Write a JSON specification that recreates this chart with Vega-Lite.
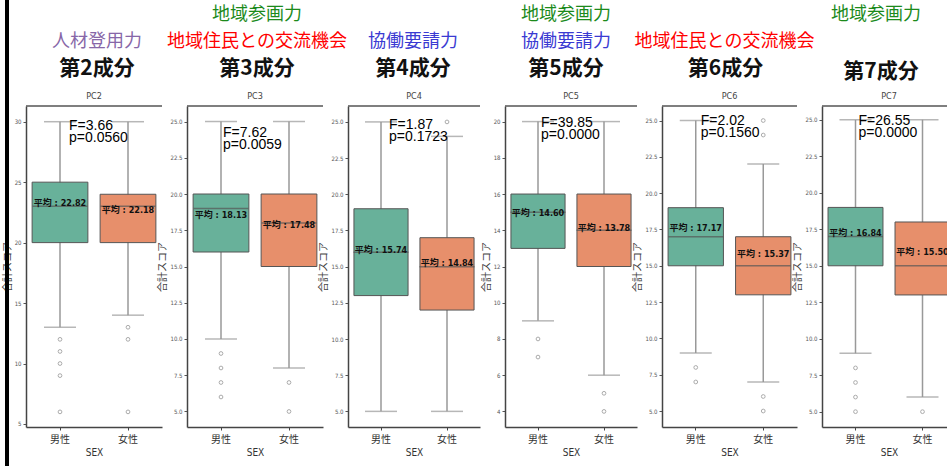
{
  "$schema": "https://vega.github.io/schema/vega-lite/v6.json",
  "padding": {"left": 2, "top": 0, "right": 0, "bottom": 0},
  "bounds": "flush",
  "spacing": 25,
  "hconcat": [
    {
      "width": 136, "height": 321,
      "resolve": {"scale": {"y": "independent", "x": "independent"}, "axis": {"y": "independent", "x": "independent"}},
      "layer": [
        {"data": {"values": [
           {"sex": "男性", "lower": 13, "q1": 20, "median": 23, "q3": 25, "upper": 30, "mean": 22.82, "meanLabel": "平均 : 22.82"},
           {"sex": "女性", "lower": 14, "q1": 20, "median": 23, "q3": 24, "upper": 30, "mean": 22.18, "meanLabel": "平均 : 22.18"}]},
         "layer": [
           {"data": {"values": [{}]}, "mark": {"type": "rule", "color": "#555", "strokeWidth": 1.3},
            "encoding": {"y": {"datum": 31.3, "type": "quantitative", "title": "合計スコア", "scale": {"domain": [4.75, 31.3], "nice": false, "zero": false}, "axis": {"orient": "left", "values": [5, 10, 15, 20, 25, 30], "format": "d", "title": "合計スコア"}}}},
           {"mark": {"type": "rule", "color": "#999", "strokeWidth": 1.5},
            "encoding": {"x": {"field": "sex", "type": "nominal", "sort": ["男性", "女性"], "scale": {"type": "band", "paddingInner": 0, "paddingOuter": 0}, "title": "SEX", "axis": {"orient": "bottom"}}, "y": {"field": "lower", "type": "quantitative", "title": "合計スコア"}, "y2": {"field": "upper"}}},
           {"mark": {"type": "tick", "orient": "horizontal", "color": "#999", "thickness": 1.5, "size": 32},
            "encoding": {"x": {"field": "sex", "type": "nominal", "sort": ["男性", "女性"], "title": "SEX"}, "y": {"field": "lower", "type": "quantitative", "title": "合計スコア"}}},
           {"mark": {"type": "tick", "orient": "horizontal", "color": "#999", "thickness": 1.5, "size": 32},
            "encoding": {"x": {"field": "sex", "type": "nominal", "sort": ["男性", "女性"], "title": "SEX"}, "y": {"field": "upper", "type": "quantitative", "title": "合計スコア"}}},
           {"mark": {"type": "bar", "stroke": "#555", "strokeWidth": 1, "width": {"band": 0.82}},
            "encoding": {"x": {"field": "sex", "type": "nominal", "sort": ["男性", "女性"], "title": "SEX"}, "y": {"field": "q1", "type": "quantitative", "title": "合計スコア"}, "y2": {"field": "q3"},
              "color": {"field": "sex", "type": "nominal", "scale": {"domain": ["男性", "女性"], "range": ["#68b19a", "#e78f6b"]}, "legend": null}}},
           {"mark": {"type": "tick", "orient": "horizontal", "color": "#555", "thickness": 1.5, "size": 55},
            "encoding": {"x": {"field": "sex", "type": "nominal", "sort": ["男性", "女性"], "title": "SEX"}, "y": {"field": "median", "type": "quantitative", "title": "合計スコア"}}},
           {"data": {"values": [{"sex": "男性", "value": 12}, {"sex": "男性", "value": 11}, {"sex": "男性", "value": 10}, {"sex": "男性", "value": 9}, {"sex": "男性", "value": 6}, {"sex": "女性", "value": 13}, {"sex": "女性", "value": 12}, {"sex": "女性", "value": 6}]},
            "mark": {"type": "point", "filled": false, "color": "#888", "size": 14, "strokeWidth": 1},
            "encoding": {"x": {"field": "sex", "type": "nominal", "sort": ["男性", "女性"], "title": "SEX"}, "y": {"field": "value", "type": "quantitative", "title": "合計スコア"}}},
           {"mark": {"type": "text", "font": "DejaVu Sans Condensed, Noto Sans CJK JP", "fontWeight": "bold", "fontSize": 9, "baseline": "bottom", "dy": -1, "color": "#111"},
            "encoding": {"x": {"field": "sex", "type": "nominal", "sort": ["男性", "女性"], "title": "SEX"}, "y": {"field": "mean", "type": "quantitative", "title": "合計スコア"}, "text": {"field": "meanLabel"}}},
           {"data": {"values": [{"F": "F=3.66", "p": "p=0.0560"}]}, "mark": {"type": "text", "font": "Liberation Sans", "fontSize": 14, "align": "left", "baseline": "middle", "dx": 9, "dy": 4, "color": "#000"},
            "encoding": {"x": {"datum": "男性", "type": "nominal", "title": "SEX"}, "y": {"datum": 30, "type": "quantitative", "title": "合計スコア"}, "text": {"field": "F"}}},
           {"data": {"values": [{"F": "F=3.66", "p": "p=0.0560"}]}, "mark": {"type": "text", "font": "Liberation Sans", "fontSize": 14, "align": "left", "baseline": "middle", "dx": 9, "dy": 16, "color": "#000"},
            "encoding": {"x": {"datum": "男性", "type": "nominal", "title": "SEX"}, "y": {"datum": 30, "type": "quantitative", "title": "合計スコア"}, "text": {"field": "p"}}}
         ]},
        {"data": {"values": [{"row": "2", "label": "人材登用力"}, {"row": "3", "label": "第2成分"}, {"row": "4", "label": "PC2"}]},
         "layer": [
           {"transform": [{"filter": "datum.row == '1' || datum.row == '2'"}], "mark": {"type": "text", "fontSize": 18, "baseline": "middle", "dx": 3},
            "encoding": {"y": {"field": "row", "type": "ordinal", "scale": {"type": "point", "domain": ["1", "2", "3", "4"], "range": [-91, -10], "padding": 0}, "axis": null},
              "text": {"field": "label"},
              "fill": {"field": "label", "type": "nominal", "scale": {"domain": ["地域参画力", "地域住民との交流機会", "協働要請力", "人材登用力"], "range": ["#1b8a1b", "#ff0000", "#3a3ad2", "#8767a8"]}, "legend": null}}},
           {"transform": [{"filter": "datum.row == '3'"}], "mark": {"type": "text", "fontSize": 21, "fontWeight": "bold", "color": "#111", "baseline": "middle", "dx": 3},
            "encoding": {"y": {"field": "row", "type": "ordinal", "axis": null}, "text": {"field": "label"}}},
           {"transform": [{"filter": "datum.row == '4'"}], "mark": {"type": "text", "fontSize": 9, "font": "DejaVu Sans Condensed", "color": "#444", "baseline": "middle"},
            "encoding": {"y": {"field": "row", "type": "ordinal", "axis": null}, "text": {"field": "label"}}}
         ]},
        {"data": {"values": [{"edge": 0}]},
         "mark": {"type": "rect", "color": "#000"},
         "encoding": {
           "x": {"datum": 0, "type": "quantitative", "scale": {"domain": [0, 1], "range": [-21, -17]}, "axis": null},
           "x2": {"datum": 1},
           "y": {"datum": 0, "type": "quantitative", "scale": {"domain": [0, 1], "range": [360, -106]}, "axis": null},
           "y2": {"datum": 1}}}
      ]
    },
    {
      "width": 136, "height": 321,
      "resolve": {"scale": {"y": "independent"}, "axis": {"y": "independent"}},
      "layer": [
        {"data": {"values": [
           {"sex": "男性", "lower": 10, "q1": 16, "median": 19, "q3": 20, "upper": 25, "mean": 18.13, "meanLabel": "平均 : 18.13"},
           {"sex": "女性", "lower": 8, "q1": 15, "median": 18, "q3": 20, "upper": 25, "mean": 17.48, "meanLabel": "平均 : 17.48"}]},
         "layer": [
           {"data": {"values": [{}]}, "mark": {"type": "rule", "color": "#555", "strokeWidth": 1.3},
            "encoding": {"y": {"datum": 26.07, "type": "quantitative", "title": "合計スコア", "scale": {"domain": [3.93, 26.07], "nice": false, "zero": false}, "axis": {"orient": "left", "values": [5, 7.5, 10, 12.5, 15, 17.5, 20, 22.5, 25], "format": ".1f", "title": "合計スコア"}}}},
           {"mark": {"type": "rule", "color": "#999", "strokeWidth": 1.5},
            "encoding": {"x": {"field": "sex", "type": "nominal", "sort": ["男性", "女性"], "scale": {"type": "band", "paddingInner": 0, "paddingOuter": 0}, "title": "SEX"}, "y": {"field": "lower", "type": "quantitative", "title": "合計スコア"}, "y2": {"field": "upper"}}},
           {"mark": {"type": "tick", "orient": "horizontal", "color": "#999", "thickness": 1.5, "size": 32},
            "encoding": {"x": {"field": "sex", "type": "nominal", "sort": ["男性", "女性"], "title": "SEX"}, "y": {"field": "lower", "type": "quantitative", "title": "合計スコア"}}},
           {"mark": {"type": "tick", "orient": "horizontal", "color": "#999", "thickness": 1.5, "size": 32},
            "encoding": {"x": {"field": "sex", "type": "nominal", "sort": ["男性", "女性"], "title": "SEX"}, "y": {"field": "upper", "type": "quantitative", "title": "合計スコア"}}},
           {"mark": {"type": "bar", "stroke": "#555", "strokeWidth": 1, "width": {"band": 0.82}},
            "encoding": {"x": {"field": "sex", "type": "nominal", "sort": ["男性", "女性"], "title": "SEX"}, "y": {"field": "q1", "type": "quantitative", "title": "合計スコア"}, "y2": {"field": "q3"},
              "color": {"field": "sex", "type": "nominal", "scale": {"domain": ["男性", "女性"], "range": ["#68b19a", "#e78f6b"]}, "legend": null}}},
           {"mark": {"type": "tick", "orient": "horizontal", "color": "#555", "thickness": 1.5, "size": 55},
            "encoding": {"x": {"field": "sex", "type": "nominal", "sort": ["男性", "女性"], "title": "SEX"}, "y": {"field": "median", "type": "quantitative", "title": "合計スコア"}}},
           {"data": {"values": [{"sex": "男性", "value": 9}, {"sex": "男性", "value": 8}, {"sex": "男性", "value": 7}, {"sex": "男性", "value": 6}, {"sex": "女性", "value": 7}, {"sex": "女性", "value": 5}]},
            "mark": {"type": "point", "filled": false, "color": "#888", "size": 14, "strokeWidth": 1},
            "encoding": {"x": {"field": "sex", "type": "nominal", "sort": ["男性", "女性"], "title": "SEX"}, "y": {"field": "value", "type": "quantitative", "title": "合計スコア"}}},
           {"mark": {"type": "text", "font": "DejaVu Sans Condensed, Noto Sans CJK JP", "fontWeight": "bold", "fontSize": 9, "baseline": "bottom", "dy": -1, "color": "#111"},
            "encoding": {"x": {"field": "sex", "type": "nominal", "sort": ["男性", "女性"], "title": "SEX"}, "y": {"field": "mean", "type": "quantitative", "title": "合計スコア"}, "text": {"field": "meanLabel"}}},
           {"data": {"values": [{"F": "F=7.62", "p": "p=0.0059"}]}, "mark": {"type": "text", "font": "Liberation Sans", "fontSize": 14, "align": "left", "baseline": "middle", "dx": 2, "dy": 11, "color": "#000"},
            "encoding": {"x": {"datum": "男性", "type": "nominal", "title": "SEX"}, "y": {"datum": 25, "type": "quantitative", "title": "合計スコア"}, "text": {"field": "F"}}},
           {"data": {"values": [{"F": "F=7.62", "p": "p=0.0059"}]}, "mark": {"type": "text", "font": "Liberation Sans", "fontSize": 14, "align": "left", "baseline": "middle", "dx": 2, "dy": 23, "color": "#000"},
            "encoding": {"x": {"datum": "男性", "type": "nominal", "title": "SEX"}, "y": {"datum": 25, "type": "quantitative", "title": "合計スコア"}, "text": {"field": "p"}}}
         ]},
        {"data": {"values": [{"row": "1", "label": "地域参画力"}, {"row": "2", "label": "地域住民との交流機会"}, {"row": "3", "label": "第3成分"}, {"row": "4", "label": "PC3"}]},
         "layer": [
           {"transform": [{"filter": "datum.row == '1' || datum.row == '2'"}], "mark": {"type": "text", "fontSize": 18, "baseline": "middle", "dx": 2},
            "encoding": {"y": {"field": "row", "type": "ordinal", "scale": {"type": "point", "domain": ["1", "2", "3", "4"], "range": [-91, -10], "padding": 0}, "axis": null},
              "text": {"field": "label"},
              "fill": {"field": "label", "type": "nominal", "scale": {"domain": ["地域参画力", "地域住民との交流機会", "協働要請力", "人材登用力"], "range": ["#1b8a1b", "#ff0000", "#3a3ad2", "#8767a8"]}, "legend": null}}},
           {"transform": [{"filter": "datum.row == '3'"}], "mark": {"type": "text", "fontSize": 21, "fontWeight": "bold", "color": "#111", "baseline": "middle", "dx": 2},
            "encoding": {"y": {"field": "row", "type": "ordinal", "axis": null}, "text": {"field": "label"}}},
           {"transform": [{"filter": "datum.row == '4'"}], "mark": {"type": "text", "fontSize": 9, "font": "DejaVu Sans Condensed", "color": "#444", "baseline": "middle"},
            "encoding": {"y": {"field": "row", "type": "ordinal", "axis": null}, "text": {"field": "label"}}}
         ]}
      ]
    },
    {
      "width": 132, "height": 321,
      "resolve": {"scale": {"y": "independent"}, "axis": {"y": "independent"}},
      "layer": [
        {"data": {"values": [
           {"sex": "男性", "lower": 5, "q1": 13, "median": 16, "q3": 19, "upper": 25, "mean": 15.74, "meanLabel": "平均 : 15.74"},
           {"sex": "女性", "lower": 5, "q1": 12, "median": 15, "q3": 17, "upper": 24, "mean": 14.84, "meanLabel": "平均 : 14.84"}]},
         "layer": [
           {"data": {"values": [{}]}, "mark": {"type": "rule", "color": "#555", "strokeWidth": 1.3},
            "encoding": {"y": {"datum": 26.1, "type": "quantitative", "title": "合計スコア", "scale": {"domain": [3.92, 26.1], "nice": false, "zero": false}, "axis": {"orient": "left", "values": [5, 7.5, 10, 12.5, 15, 17.5, 20, 22.5, 25], "format": ".1f", "title": "合計スコア"}}}},
           {"mark": {"type": "rule", "color": "#999", "strokeWidth": 1.5},
            "encoding": {"x": {"field": "sex", "type": "nominal", "sort": ["男性", "女性"], "scale": {"type": "band", "paddingInner": 0, "paddingOuter": 0}, "title": "SEX"}, "y": {"field": "lower", "type": "quantitative", "title": "合計スコア"}, "y2": {"field": "upper"}}},
           {"mark": {"type": "tick", "orient": "horizontal", "color": "#999", "thickness": 1.5, "size": 32},
            "encoding": {"x": {"field": "sex", "type": "nominal", "sort": ["男性", "女性"], "title": "SEX"}, "y": {"field": "lower", "type": "quantitative", "title": "合計スコア"}}},
           {"mark": {"type": "tick", "orient": "horizontal", "color": "#999", "thickness": 1.5, "size": 32},
            "encoding": {"x": {"field": "sex", "type": "nominal", "sort": ["男性", "女性"], "title": "SEX"}, "y": {"field": "upper", "type": "quantitative", "title": "合計スコア"}}},
           {"mark": {"type": "bar", "stroke": "#555", "strokeWidth": 1, "width": {"band": 0.82}},
            "encoding": {"x": {"field": "sex", "type": "nominal", "sort": ["男性", "女性"], "title": "SEX"}, "y": {"field": "q1", "type": "quantitative", "title": "合計スコア"}, "y2": {"field": "q3"},
              "color": {"field": "sex", "type": "nominal", "scale": {"domain": ["男性", "女性"], "range": ["#68b19a", "#e78f6b"]}, "legend": null}}},
           {"mark": {"type": "tick", "orient": "horizontal", "color": "#555", "thickness": 1.5, "size": 55},
            "encoding": {"x": {"field": "sex", "type": "nominal", "sort": ["男性", "女性"], "title": "SEX"}, "y": {"field": "median", "type": "quantitative", "title": "合計スコア"}}},
           {"data": {"values": [{"sex": "女性", "value": 25}]},
            "mark": {"type": "point", "filled": false, "color": "#888", "size": 14, "strokeWidth": 1},
            "encoding": {"x": {"field": "sex", "type": "nominal", "sort": ["男性", "女性"], "title": "SEX"}, "y": {"field": "value", "type": "quantitative", "title": "合計スコア"}}},
           {"mark": {"type": "text", "font": "DejaVu Sans Condensed, Noto Sans CJK JP", "fontWeight": "bold", "fontSize": 9, "baseline": "bottom", "dy": -1, "color": "#111"},
            "encoding": {"x": {"field": "sex", "type": "nominal", "sort": ["男性", "女性"], "title": "SEX"}, "y": {"field": "mean", "type": "quantitative", "title": "合計スコア"}, "text": {"field": "meanLabel"}}},
           {"data": {"values": [{"F": "F=1.87", "p": "p=0.1723"}]}, "mark": {"type": "text", "font": "Liberation Sans", "fontSize": 14, "align": "left", "baseline": "middle", "dx": 8, "dy": 3, "color": "#000"},
            "encoding": {"x": {"datum": "男性", "type": "nominal", "title": "SEX"}, "y": {"datum": 25, "type": "quantitative", "title": "合計スコア"}, "text": {"field": "F"}}},
           {"data": {"values": [{"F": "F=1.87", "p": "p=0.1723"}]}, "mark": {"type": "text", "font": "Liberation Sans", "fontSize": 14, "align": "left", "baseline": "middle", "dx": 8, "dy": 15, "color": "#000"},
            "encoding": {"x": {"datum": "男性", "type": "nominal", "title": "SEX"}, "y": {"datum": 25, "type": "quantitative", "title": "合計スコア"}, "text": {"field": "p"}}}
         ]},
        {"data": {"values": [{"row": "2", "label": "協働要請力"}, {"row": "3", "label": "第4成分"}, {"row": "4", "label": "PC4"}]},
         "layer": [
           {"transform": [{"filter": "datum.row == '1' || datum.row == '2'"}], "mark": {"type": "text", "fontSize": 18, "baseline": "middle", "dx": -1},
            "encoding": {"y": {"field": "row", "type": "ordinal", "scale": {"type": "point", "domain": ["1", "2", "3", "4"], "range": [-91, -10], "padding": 0}, "axis": null},
              "text": {"field": "label"},
              "fill": {"field": "label", "type": "nominal", "scale": {"domain": ["地域参画力", "地域住民との交流機会", "協働要請力", "人材登用力"], "range": ["#1b8a1b", "#ff0000", "#3a3ad2", "#8767a8"]}, "legend": null}}},
           {"transform": [{"filter": "datum.row == '3'"}], "mark": {"type": "text", "fontSize": 21, "fontWeight": "bold", "color": "#111", "baseline": "middle", "dx": -1},
            "encoding": {"y": {"field": "row", "type": "ordinal", "axis": null}, "text": {"field": "label"}}},
           {"transform": [{"filter": "datum.row == '4'"}], "mark": {"type": "text", "fontSize": 9, "font": "DejaVu Sans Condensed", "color": "#444", "baseline": "middle"},
            "encoding": {"y": {"field": "row", "type": "ordinal", "axis": null}, "text": {"field": "label"}}}
         ]}
      ]
    },
    {
      "width": 132, "height": 321,
      "resolve": {"scale": {"y": "independent"}, "axis": {"y": "independent"}},
      "layer": [
        {"data": {"values": [
           {"sex": "男性", "lower": 9, "q1": 13, "median": 15, "q3": 16, "upper": 20, "mean": 14.60, "meanLabel": "平均 : 14.60"},
           {"sex": "女性", "lower": 6, "q1": 12, "median": 14, "q3": 16, "upper": 20, "mean": 13.78, "meanLabel": "平均 : 13.78"}]},
         "layer": [
           {"data": {"values": [{}]}, "mark": {"type": "rule", "color": "#555", "strokeWidth": 1.3},
            "encoding": {"y": {"datum": 20.86, "type": "quantitative", "title": "合計スコア", "scale": {"domain": [3.14, 20.86], "nice": false, "zero": false}, "axis": {"orient": "left", "values": [4, 6, 8, 10, 12, 14, 16, 18, 20], "format": "d", "title": "合計スコア"}}}},
           {"mark": {"type": "rule", "color": "#999", "strokeWidth": 1.5},
            "encoding": {"x": {"field": "sex", "type": "nominal", "sort": ["男性", "女性"], "scale": {"type": "band", "paddingInner": 0, "paddingOuter": 0}, "title": "SEX"}, "y": {"field": "lower", "type": "quantitative", "title": "合計スコア"}, "y2": {"field": "upper"}}},
           {"mark": {"type": "tick", "orient": "horizontal", "color": "#999", "thickness": 1.5, "size": 32},
            "encoding": {"x": {"field": "sex", "type": "nominal", "sort": ["男性", "女性"], "title": "SEX"}, "y": {"field": "lower", "type": "quantitative", "title": "合計スコア"}}},
           {"mark": {"type": "tick", "orient": "horizontal", "color": "#999", "thickness": 1.5, "size": 32},
            "encoding": {"x": {"field": "sex", "type": "nominal", "sort": ["男性", "女性"], "title": "SEX"}, "y": {"field": "upper", "type": "quantitative", "title": "合計スコア"}}},
           {"mark": {"type": "bar", "stroke": "#555", "strokeWidth": 1, "width": {"band": 0.82}},
            "encoding": {"x": {"field": "sex", "type": "nominal", "sort": ["男性", "女性"], "title": "SEX"}, "y": {"field": "q1", "type": "quantitative", "title": "合計スコア"}, "y2": {"field": "q3"},
              "color": {"field": "sex", "type": "nominal", "scale": {"domain": ["男性", "女性"], "range": ["#68b19a", "#e78f6b"]}, "legend": null}}},
           {"mark": {"type": "tick", "orient": "horizontal", "color": "#555", "thickness": 1.5, "size": 55},
            "encoding": {"x": {"field": "sex", "type": "nominal", "sort": ["男性", "女性"], "title": "SEX"}, "y": {"field": "median", "type": "quantitative", "title": "合計スコア"}}},
           {"data": {"values": [{"sex": "男性", "value": 8}, {"sex": "男性", "value": 7}, {"sex": "女性", "value": 5}, {"sex": "女性", "value": 4}]},
            "mark": {"type": "point", "filled": false, "color": "#888", "size": 14, "strokeWidth": 1},
            "encoding": {"x": {"field": "sex", "type": "nominal", "sort": ["男性", "女性"], "title": "SEX"}, "y": {"field": "value", "type": "quantitative", "title": "合計スコア"}}},
           {"mark": {"type": "text", "font": "DejaVu Sans Condensed, Noto Sans CJK JP", "fontWeight": "bold", "fontSize": 9, "baseline": "bottom", "dy": -1, "color": "#111"},
            "encoding": {"x": {"field": "sex", "type": "nominal", "sort": ["男性", "女性"], "title": "SEX"}, "y": {"field": "mean", "type": "quantitative", "title": "合計スコア"}, "text": {"field": "meanLabel"}}},
           {"data": {"values": [{"F": "F=39.85", "p": "p=0.0000"}]}, "mark": {"type": "text", "font": "Liberation Sans", "fontSize": 14, "align": "left", "baseline": "middle", "dx": 3, "dy": 1, "color": "#000"},
            "encoding": {"x": {"datum": "男性", "type": "nominal", "title": "SEX"}, "y": {"datum": 20, "type": "quantitative", "title": "合計スコア"}, "text": {"field": "F"}}},
           {"data": {"values": [{"F": "F=39.85", "p": "p=0.0000"}]}, "mark": {"type": "text", "font": "Liberation Sans", "fontSize": 14, "align": "left", "baseline": "middle", "dx": 3, "dy": 13, "color": "#000"},
            "encoding": {"x": {"datum": "男性", "type": "nominal", "title": "SEX"}, "y": {"datum": 20, "type": "quantitative", "title": "合計スコア"}, "text": {"field": "p"}}}
         ]},
        {"data": {"values": [{"row": "1", "label": "地域参画力"}, {"row": "2", "label": "協働要請力"}, {"row": "3", "label": "第5成分"}, {"row": "4", "label": "PC5"}]},
         "layer": [
           {"transform": [{"filter": "datum.row == '1' || datum.row == '2'"}], "mark": {"type": "text", "fontSize": 18, "baseline": "middle", "dx": -5},
            "encoding": {"y": {"field": "row", "type": "ordinal", "scale": {"type": "point", "domain": ["1", "2", "3", "4"], "range": [-91, -10], "padding": 0}, "axis": null},
              "text": {"field": "label"},
              "fill": {"field": "label", "type": "nominal", "scale": {"domain": ["地域参画力", "地域住民との交流機会", "協働要請力", "人材登用力"], "range": ["#1b8a1b", "#ff0000", "#3a3ad2", "#8767a8"]}, "legend": null}}},
           {"transform": [{"filter": "datum.row == '3'"}], "mark": {"type": "text", "fontSize": 21, "fontWeight": "bold", "color": "#111", "baseline": "middle", "dx": -5},
            "encoding": {"y": {"field": "row", "type": "ordinal", "axis": null}, "text": {"field": "label"}}},
           {"transform": [{"filter": "datum.row == '4'"}], "mark": {"type": "text", "fontSize": 9, "font": "DejaVu Sans Condensed", "color": "#444", "baseline": "middle"},
            "encoding": {"y": {"field": "row", "type": "ordinal", "axis": null}, "text": {"field": "label"}}}
         ]}
      ]
    },
    {
      "width": 135, "height": 321,
      "resolve": {"scale": {"y": "independent"}, "axis": {"y": "independent"}},
      "layer": [
        {"data": {"values": [
           {"sex": "男性", "lower": 9, "q1": 15, "median": 17, "q3": 19, "upper": 25, "mean": 17.17, "meanLabel": "平均 : 17.17"},
           {"sex": "女性", "lower": 7, "q1": 13, "median": 15, "q3": 17, "upper": 22, "mean": 15.37, "meanLabel": "平均 : 15.37"}]},
         "layer": [
           {"data": {"values": [{}]}, "mark": {"type": "rule", "color": "#555", "strokeWidth": 1.3},
            "encoding": {"y": {"datum": 26.0, "type": "quantitative", "title": "合計スコア", "scale": {"domain": [3.9, 26.0], "nice": false, "zero": false}, "axis": {"orient": "left", "values": [5, 7.5, 10, 12.5, 15, 17.5, 20, 22.5, 25], "format": ".1f", "title": "合計スコア"}}}},
           {"mark": {"type": "rule", "color": "#999", "strokeWidth": 1.5},
            "encoding": {"x": {"field": "sex", "type": "nominal", "sort": ["男性", "女性"], "scale": {"type": "band", "paddingInner": 0, "paddingOuter": 0}, "title": "SEX"}, "y": {"field": "lower", "type": "quantitative", "title": "合計スコア"}, "y2": {"field": "upper"}}},
           {"mark": {"type": "tick", "orient": "horizontal", "color": "#999", "thickness": 1.5, "size": 32},
            "encoding": {"x": {"field": "sex", "type": "nominal", "sort": ["男性", "女性"], "title": "SEX"}, "y": {"field": "lower", "type": "quantitative", "title": "合計スコア"}}},
           {"mark": {"type": "tick", "orient": "horizontal", "color": "#999", "thickness": 1.5, "size": 32},
            "encoding": {"x": {"field": "sex", "type": "nominal", "sort": ["男性", "女性"], "title": "SEX"}, "y": {"field": "upper", "type": "quantitative", "title": "合計スコア"}}},
           {"mark": {"type": "bar", "stroke": "#555", "strokeWidth": 1, "width": {"band": 0.82}},
            "encoding": {"x": {"field": "sex", "type": "nominal", "sort": ["男性", "女性"], "title": "SEX"}, "y": {"field": "q1", "type": "quantitative", "title": "合計スコア"}, "y2": {"field": "q3"},
              "color": {"field": "sex", "type": "nominal", "scale": {"domain": ["男性", "女性"], "range": ["#68b19a", "#e78f6b"]}, "legend": null}}},
           {"mark": {"type": "tick", "orient": "horizontal", "color": "#555", "thickness": 1.5, "size": 55},
            "encoding": {"x": {"field": "sex", "type": "nominal", "sort": ["男性", "女性"], "title": "SEX"}, "y": {"field": "median", "type": "quantitative", "title": "合計スコア"}}},
           {"data": {"values": [{"sex": "男性", "value": 8}, {"sex": "男性", "value": 7}, {"sex": "女性", "value": 25}, {"sex": "女性", "value": 24}, {"sex": "女性", "value": 6}, {"sex": "女性", "value": 5}]},
            "mark": {"type": "point", "filled": false, "color": "#888", "size": 14, "strokeWidth": 1},
            "encoding": {"x": {"field": "sex", "type": "nominal", "sort": ["男性", "女性"], "title": "SEX"}, "y": {"field": "value", "type": "quantitative", "title": "合計スコア"}}},
           {"mark": {"type": "text", "font": "DejaVu Sans Condensed, Noto Sans CJK JP", "fontWeight": "bold", "fontSize": 9, "baseline": "bottom", "dy": -1, "color": "#111"},
            "encoding": {"x": {"field": "sex", "type": "nominal", "sort": ["男性", "女性"], "title": "SEX"}, "y": {"field": "mean", "type": "quantitative", "title": "合計スコア"}, "text": {"field": "meanLabel"}}},
           {"data": {"values": [{"F": "F=2.02", "p": "p=0.1560"}]}, "mark": {"type": "text", "font": "Liberation Sans", "fontSize": 14, "align": "left", "baseline": "middle", "dx": 5, "dy": 0, "color": "#000"},
            "encoding": {"x": {"datum": "男性", "type": "nominal", "title": "SEX"}, "y": {"datum": 25, "type": "quantitative", "title": "合計スコア"}, "text": {"field": "F"}}},
           {"data": {"values": [{"F": "F=2.02", "p": "p=0.1560"}]}, "mark": {"type": "text", "font": "Liberation Sans", "fontSize": 14, "align": "left", "baseline": "middle", "dx": 5, "dy": 12, "color": "#000"},
            "encoding": {"x": {"datum": "男性", "type": "nominal", "title": "SEX"}, "y": {"datum": 25, "type": "quantitative", "title": "合計スコア"}, "text": {"field": "p"}}}
         ]},
        {"data": {"values": [{"row": "2", "label": "地域住民との交流機会"}, {"row": "3", "label": "第6成分"}, {"row": "4", "label": "PC6"}]},
         "layer": [
           {"transform": [{"filter": "datum.row == '1' || datum.row == '2'"}], "mark": {"type": "text", "fontSize": 18, "baseline": "middle", "dx": -5},
            "encoding": {"y": {"field": "row", "type": "ordinal", "scale": {"type": "point", "domain": ["1", "2", "3", "4"], "range": [-91, -10], "padding": 0}, "axis": null},
              "text": {"field": "label"},
              "fill": {"field": "label", "type": "nominal", "scale": {"domain": ["地域参画力", "地域住民との交流機会", "協働要請力", "人材登用力"], "range": ["#1b8a1b", "#ff0000", "#3a3ad2", "#8767a8"]}, "legend": null}}},
           {"transform": [{"filter": "datum.row == '3'"}], "mark": {"type": "text", "fontSize": 21, "fontWeight": "bold", "color": "#111", "baseline": "middle", "dx": -4},
            "encoding": {"y": {"field": "row", "type": "ordinal", "axis": null}, "text": {"field": "label"}}},
           {"transform": [{"filter": "datum.row == '4'"}], "mark": {"type": "text", "fontSize": 9, "font": "DejaVu Sans Condensed", "color": "#444", "baseline": "middle"},
            "encoding": {"y": {"field": "row", "type": "ordinal", "axis": null}, "text": {"field": "label"}}}
         ]}
      ]
    },
    {
      "width": 134, "height": 321,
      "resolve": {"scale": {"y": "independent"}, "axis": {"y": "independent"}},
      "layer": [
        {"data": {"values": [
           {"sex": "男性", "lower": 9, "q1": 15, "median": 17, "q3": 19, "upper": 25, "mean": 16.84, "meanLabel": "平均 : 16.84"},
           {"sex": "女性", "lower": 6, "q1": 13, "median": 15, "q3": 18, "upper": 25, "mean": 15.50, "meanLabel": "平均 : 15.50"}]},
         "layer": [
           {"data": {"values": [{}]}, "mark": {"type": "rule", "color": "#555", "strokeWidth": 1.3},
            "encoding": {"y": {"datum": 25.95, "type": "quantitative", "title": "合計スコア", "scale": {"domain": [3.95, 25.95], "nice": false, "zero": false}, "axis": {"orient": "left", "values": [5, 7.5, 10, 12.5, 15, 17.5, 20, 22.5, 25], "format": ".1f", "title": "合計スコア"}}}},
           {"mark": {"type": "rule", "color": "#999", "strokeWidth": 1.5},
            "encoding": {"x": {"field": "sex", "type": "nominal", "sort": ["男性", "女性"], "scale": {"type": "band", "paddingInner": 0, "paddingOuter": 0}, "title": "SEX"}, "y": {"field": "lower", "type": "quantitative", "title": "合計スコア"}, "y2": {"field": "upper"}}},
           {"mark": {"type": "tick", "orient": "horizontal", "color": "#999", "thickness": 1.5, "size": 32},
            "encoding": {"x": {"field": "sex", "type": "nominal", "sort": ["男性", "女性"], "title": "SEX"}, "y": {"field": "lower", "type": "quantitative", "title": "合計スコア"}}},
           {"mark": {"type": "tick", "orient": "horizontal", "color": "#999", "thickness": 1.5, "size": 32},
            "encoding": {"x": {"field": "sex", "type": "nominal", "sort": ["男性", "女性"], "title": "SEX"}, "y": {"field": "upper", "type": "quantitative", "title": "合計スコア"}}},
           {"mark": {"type": "bar", "stroke": "#555", "strokeWidth": 1, "width": {"band": 0.82}},
            "encoding": {"x": {"field": "sex", "type": "nominal", "sort": ["男性", "女性"], "title": "SEX"}, "y": {"field": "q1", "type": "quantitative", "title": "合計スコア"}, "y2": {"field": "q3"},
              "color": {"field": "sex", "type": "nominal", "scale": {"domain": ["男性", "女性"], "range": ["#68b19a", "#e78f6b"]}, "legend": null}}},
           {"mark": {"type": "tick", "orient": "horizontal", "color": "#555", "thickness": 1.5, "size": 55},
            "encoding": {"x": {"field": "sex", "type": "nominal", "sort": ["男性", "女性"], "title": "SEX"}, "y": {"field": "median", "type": "quantitative", "title": "合計スコア"}}},
           {"data": {"values": [{"sex": "男性", "value": 8}, {"sex": "男性", "value": 7}, {"sex": "男性", "value": 6}, {"sex": "男性", "value": 5}, {"sex": "女性", "value": 5}]},
            "mark": {"type": "point", "filled": false, "color": "#888", "size": 14, "strokeWidth": 1},
            "encoding": {"x": {"field": "sex", "type": "nominal", "sort": ["男性", "女性"], "title": "SEX"}, "y": {"field": "value", "type": "quantitative", "title": "合計スコア"}}},
           {"mark": {"type": "text", "font": "DejaVu Sans Condensed, Noto Sans CJK JP", "fontWeight": "bold", "fontSize": 9, "baseline": "bottom", "dy": -1, "color": "#111"},
            "encoding": {"x": {"field": "sex", "type": "nominal", "sort": ["男性", "女性"], "title": "SEX"}, "y": {"field": "mean", "type": "quantitative", "title": "合計スコア"}, "text": {"field": "meanLabel"}}},
           {"data": {"values": [{"F": "F=26.55", "p": "p=0.0000"}]}, "mark": {"type": "text", "font": "Liberation Sans", "fontSize": 14, "align": "left", "baseline": "middle", "dx": 3, "dy": 1, "color": "#000"},
            "encoding": {"x": {"datum": "男性", "type": "nominal", "title": "SEX"}, "y": {"datum": 25, "type": "quantitative", "title": "合計スコア"}, "text": {"field": "F"}}},
           {"data": {"values": [{"F": "F=26.55", "p": "p=0.0000"}]}, "mark": {"type": "text", "font": "Liberation Sans", "fontSize": 14, "align": "left", "baseline": "middle", "dx": 3, "dy": 13, "color": "#000"},
            "encoding": {"x": {"datum": "男性", "type": "nominal", "title": "SEX"}, "y": {"datum": 25, "type": "quantitative", "title": "合計スコア"}, "text": {"field": "p"}}}
         ]},
        {"data": {"values": [{"row": "1", "label": "地域参画力"}, {"row": "3", "label": "第7成分"}, {"row": "4", "label": "PC7"}]},
         "layer": [
           {"transform": [{"filter": "datum.row == '1' || datum.row == '2'"}], "mark": {"type": "text", "fontSize": 18, "baseline": "middle", "dx": -13},
            "encoding": {"y": {"field": "row", "type": "ordinal", "scale": {"type": "point", "domain": ["1", "2", "3", "4"], "range": [-91, -10], "padding": 0}, "axis": null},
              "text": {"field": "label"},
              "fill": {"field": "label", "type": "nominal", "scale": {"domain": ["地域参画力", "地域住民との交流機会", "協働要請力", "人材登用力"], "range": ["#1b8a1b", "#ff0000", "#3a3ad2", "#8767a8"]}, "legend": null}}},
           {"transform": [{"filter": "datum.row == '3'"}], "mark": {"type": "text", "fontSize": 21, "fontWeight": "bold", "color": "#111", "baseline": "middle", "dx": -8, "dy": 3},
            "encoding": {"y": {"field": "row", "type": "ordinal", "axis": null}, "text": {"field": "label"}}},
           {"transform": [{"filter": "datum.row == '4'"}], "mark": {"type": "text", "fontSize": 9, "font": "DejaVu Sans Condensed", "color": "#444", "baseline": "middle"},
            "encoding": {"y": {"field": "row", "type": "ordinal", "axis": null}, "text": {"field": "label"}}}
         ]}
      ]
    }
  ],
  "config": {
    "view": {"stroke": null},
    "font": "Noto Sans CJK JP",
    "axisX": {"labelAngle": 0, "labelFont": "Noto Sans CJK JP", "labelFontSize": 10, "labelColor": "#333", "titleFont": "DejaVu Sans Condensed", "titleFontSize": 10, "titleFontWeight": "normal", "titleColor": "#333", "domainColor": "#444", "domainWidth": 1.5, "tickColor": "#444", "tickSize": 3, "labelPadding": 4, "titlePadding": 3, "grid": false},
    "axisY": {"labelFont": "DejaVu Sans Condensed", "labelFontSize": 6, "labelColor": "#555", "titleFont": "Noto Sans CJK JP", "titleFontSize": 10, "titleFontWeight": "normal", "titleColor": "#444", "domainColor": "#444", "domainWidth": 1.5, "tickColor": "#555", "tickSize": 3, "labelPadding": 2, "titlePadding": 2, "grid": false}
  }
}
